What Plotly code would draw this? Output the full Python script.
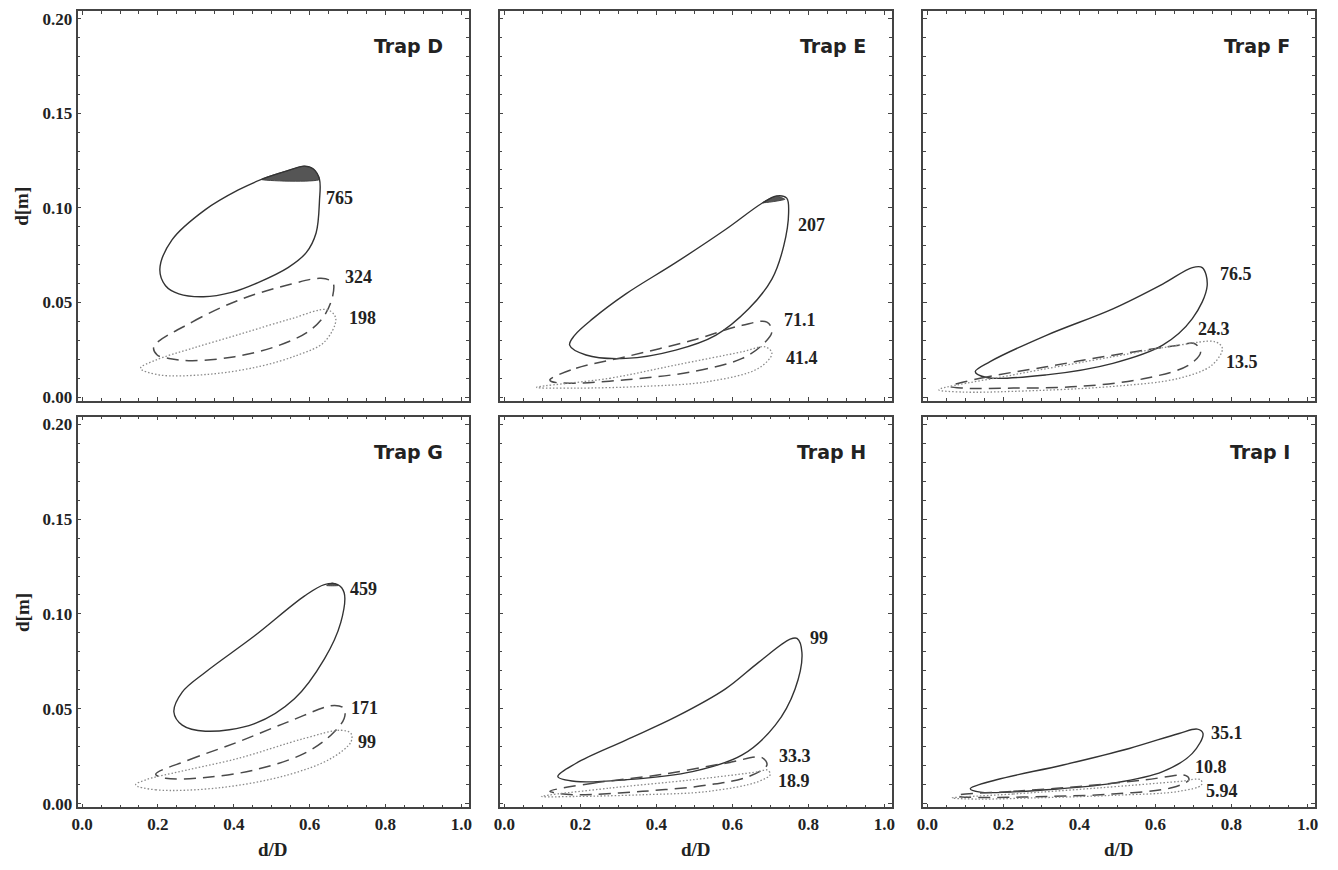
import plotly.graph_objects as go

# ---------------- data ----------------
traps = ["Trap D", "Trap E", "Trap F", "Trap G", "Trap H", "Trap I"]

# Trap D
D_solid_x = [0.205, 0.22, 0.255, 0.32, 0.394, 0.464, 0.543, 0.591, 0.617, 0.626, 0.626, 0.61, 0.586, 0.54, 0.473, 0.412, 0.325, 0.237]
D_solid_y = [0.0675, 0.0588, 0.0545, 0.053, 0.0553, 0.0605, 0.0684, 0.0763, 0.0867, 0.104, 0.115, 0.1205, 0.122, 0.1195, 0.115, 0.1094, 0.099, 0.083]
D_cap_x = [0.473, 0.54, 0.586, 0.61, 0.626]
D_cap_y = [0.115, 0.1195, 0.122, 0.1205, 0.115]
D_dash_x = [0.189, 0.290, 0.421, 0.552, 0.630, 0.661, 0.661, 0.639, 0.595, 0.508, 0.403, 0.290, 0.229, 0.198]
D_dash_y = [0.0265, 0.0396, 0.0518, 0.0597, 0.0627, 0.0605, 0.0536, 0.0431, 0.0344, 0.0265, 0.0213, 0.0192, 0.0204, 0.0222]
D_dot_x = [0.154, 0.202, 0.333, 0.464, 0.569, 0.639, 0.669, 0.647, 0.552, 0.421, 0.290, 0.194]
D_dot_y = [0.0152, 0.0117, 0.012, 0.016, 0.0222, 0.0291, 0.0414, 0.0461, 0.0414, 0.0335, 0.0257, 0.0195]
D_labels = ["765", "324", "198"]
D_label_x = [0.68, 0.73, 0.739]
D_label_y = [0.105, 0.0632, 0.0417]

# Trap E
E_solid_x = [0.172, 0.215, 0.320, 0.451, 0.556, 0.643, 0.704, 0.735, 0.748, 0.743, 0.717, 0.678, 0.582, 0.451, 0.320, 0.233, 0.185]
E_solid_y = [0.0274, 0.0222, 0.0204, 0.0248, 0.0326, 0.0466, 0.0623, 0.0797, 0.0972, 0.1051, 0.1063, 0.1024, 0.0885, 0.071, 0.0545, 0.0414, 0.0326]
E_cap_x = [0.68, 0.70, 0.717, 0.738]
E_cap_y = [0.1027, 0.1050, 0.1061, 0.1045]
E_dash_x = [0.120, 0.189, 0.320, 0.495, 0.626, 0.691, 0.704, 0.678, 0.626, 0.495, 0.320, 0.172, 0.124]
E_dash_y = [0.0091, 0.0152, 0.0213, 0.030, 0.0379, 0.0396, 0.0344, 0.0274, 0.0204, 0.0134, 0.0091, 0.0073, 0.0082]
E_dot_x = [0.085, 0.277, 0.451, 0.626, 0.687, 0.704, 0.669, 0.538, 0.364, 0.189]
E_dot_y = [0.0051, 0.0099, 0.0169, 0.0239, 0.0265, 0.023, 0.0152, 0.0082, 0.0056, 0.0047]
E_labels = ["207", "71.1", "41.4"]
E_label_x = [0.809, 0.778, 0.783]
E_label_y = [0.0911, 0.0405, 0.0204]

# Trap F
F_solid_x = [0.126, 0.156, 0.313, 0.488, 0.619, 0.697, 0.736, 0.723, 0.697, 0.619, 0.488, 0.313, 0.165]
F_solid_y = [0.0134, 0.0103, 0.0117, 0.0178, 0.0274, 0.0414, 0.0588, 0.0684, 0.0684, 0.0597, 0.0466, 0.0326, 0.0187]
F_dash_x = [0.060, 0.139, 0.313, 0.488, 0.662, 0.702, 0.719, 0.688, 0.575, 0.401, 0.226, 0.095]
F_dash_y = [0.0056, 0.0099, 0.016, 0.0221, 0.0274, 0.0283, 0.0239, 0.0169, 0.0099, 0.0056, 0.0047, 0.0047]
F_dot_x = [0.030, 0.226, 0.488, 0.662, 0.758, 0.776, 0.749, 0.662, 0.488, 0.226, 0.095]
F_dot_y = [0.0038, 0.0117, 0.0213, 0.0274, 0.0291, 0.0257, 0.0169, 0.0099, 0.0056, 0.003, 0.0026]
F_labels = ["76.5", "24.3", "13.5"]
F_label_x = [0.811, 0.754, 0.828]
F_label_y = [0.0649, 0.0361, 0.0187]

# Trap G
G_solid_x = [0.242, 0.264, 0.325, 0.455, 0.560, 0.639, 0.682, 0.691, 0.674, 0.639, 0.586, 0.455, 0.325, 0.264]
G_solid_y = [0.0483, 0.0414, 0.0382, 0.0422, 0.0553, 0.0763, 0.0954, 0.1112, 0.1155, 0.1155, 0.1094, 0.0885, 0.0693, 0.0588]
G_cap_x = [0.645, 0.66, 0.675]
G_cap_y = [0.1150, 0.1163, 0.1150]
G_dash_x = [0.194, 0.281, 0.412, 0.543, 0.665, 0.691, 0.691, 0.656, 0.586, 0.455, 0.325, 0.220]
G_dash_y = [0.0155, 0.023, 0.0326, 0.0431, 0.0518, 0.0501, 0.0449, 0.0361, 0.0265, 0.0178, 0.0138, 0.0134]
G_dot_x = [0.141, 0.194, 0.368, 0.543, 0.657, 0.709, 0.709, 0.682, 0.586, 0.412, 0.237, 0.168]
G_dot_y = [0.0099, 0.0073, 0.0085, 0.0152, 0.0239, 0.0326, 0.037, 0.0387, 0.0344, 0.0239, 0.016, 0.0126]
G_labels = ["459", "171", "99"]
G_label_x = [0.743, 0.745, 0.750]
G_label_y = [0.1133, 0.0504, 0.0326]

# Trap H
H_solid_x = [0.141, 0.189, 0.320, 0.495, 0.626, 0.713, 0.765, 0.783, 0.770, 0.752, 0.669, 0.582, 0.451, 0.320, 0.189]
H_solid_y = [0.0143, 0.0117, 0.0126, 0.0169, 0.0257, 0.0414, 0.0605, 0.0797, 0.0871, 0.0867, 0.0745, 0.0605, 0.0457, 0.0335, 0.0213]
H_dash_x = [0.120, 0.233, 0.408, 0.582, 0.678, 0.691, 0.643, 0.538, 0.364, 0.189, 0.137]
H_dash_y = [0.0065, 0.0108, 0.0152, 0.0213, 0.0243, 0.0204, 0.0143, 0.0099, 0.0065, 0.0047, 0.0056]
H_dot_x = [0.098, 0.277, 0.495, 0.669, 0.691, 0.700, 0.669, 0.538, 0.364, 0.189]
H_dot_y = [0.0038, 0.0082, 0.0126, 0.0169, 0.0178, 0.0155, 0.0117, 0.0065, 0.0047, 0.0038]
H_labels = ["99", "33.3", "18.9"]
H_label_x = [0.829, 0.764, 0.761]
H_label_y = [0.0873, 0.0251, 0.012]

# Trap I
I_solid_x = [0.113, 0.139, 0.313, 0.488, 0.619, 0.697, 0.725, 0.710, 0.662, 0.531, 0.357, 0.182]
I_solid_y = [0.0079, 0.0061, 0.0073, 0.0108, 0.0169, 0.0265, 0.037, 0.0393, 0.037, 0.0291, 0.0204, 0.0126]
I_dash_x = [0.078, 0.226, 0.401, 0.575, 0.680, 0.688, 0.645, 0.488, 0.313, 0.139, 0.086]
I_dash_y = [0.0044, 0.0065, 0.0091, 0.0126, 0.0148, 0.0126, 0.0085, 0.0051, 0.0038, 0.0033, 0.0037]
I_dot_x = [0.065, 0.226, 0.444, 0.662, 0.719, 0.721, 0.662, 0.488, 0.270, 0.139]
I_dot_y = [0.003, 0.0051, 0.0082, 0.0117, 0.0126, 0.0099, 0.0065, 0.0044, 0.003, 0.0024]
I_labels = ["35.1", "10.8", "5.94"]
I_label_x = [0.789, 0.745, 0.776]
I_label_y = [0.037, 0.0195, 0.0068]

x_ticks = [0.0, 0.2, 0.4, 0.6, 0.8, 1.0]
y_ticks = [0.00, 0.05, 0.10, 0.15, 0.20]
x_label = "d/D"
y_label = "d[m]"

panels = [
    (D_solid_x, D_solid_y, D_dash_x, D_dash_y, D_dot_x, D_dot_y, (D_cap_x, D_cap_y), D_labels, D_label_x, D_label_y),
    (E_solid_x, E_solid_y, E_dash_x, E_dash_y, E_dot_x, E_dot_y, (E_cap_x, E_cap_y), E_labels, E_label_x, E_label_y),
    (F_solid_x, F_solid_y, F_dash_x, F_dash_y, F_dot_x, F_dot_y, None, F_labels, F_label_x, F_label_y),
    (G_solid_x, G_solid_y, G_dash_x, G_dash_y, G_dot_x, G_dot_y, (G_cap_x, G_cap_y), G_labels, G_label_x, G_label_y),
    (H_solid_x, H_solid_y, H_dash_x, H_dash_y, H_dot_x, H_dot_y, None, H_labels, H_label_x, H_label_y),
    (I_solid_x, I_solid_y, I_dash_x, I_dash_y, I_dot_x, I_dot_y, None, I_labels, I_label_x, I_label_y),
]

# ---------------- layout ----------------
# the page body has an 8px default margin, so the figure is drawn 8px smaller
# and all target pixel positions are shifted by that offset
OFF = 8
W, H = 1338 - OFF, 870 - OFF
col_px = [(72 - OFF, 466 - OFF), (497 - OFF, 892 - OFF), (923 - OFF, 1318 - OFF)]
row_px = [(10 - OFF, 403 - OFF), (419 - OFF, 813 - OFF)]

fig = go.Figure()
serif_bold = dict(family="Liberation Serif", size=17, color="#222", weight="bold")

def closed(a):
    return list(a) + [a[0]]

for i, p in enumerate(panels):
    r, c = divmod(i, 3)
    n = i + 1
    xa = "x" if n == 1 else f"x{n}"
    ya = "y" if n == 1 else f"y{n}"
    sx, sy, dx, dy, ox, oy, cap, labs, lx, ly = p

    if cap is not None:
        fig.add_trace(go.Scatter(x=closed(cap[0]), y=closed(cap[1]), mode="lines", fill="toself",
                                 fillcolor="#555", line=dict(color="#444", width=1, shape="spline", smoothing=0.6),
                                 xaxis=xa, yaxis=ya, showlegend=False, hoverinfo="skip"))
    fig.add_trace(go.Scatter(x=closed(sx), y=closed(sy), mode="lines",
                             line=dict(color="#333", width=1.4, shape="spline", smoothing=1.0),
                             xaxis=xa, yaxis=ya, showlegend=False))
    fig.add_trace(go.Scatter(x=closed(dx), y=closed(dy), mode="lines",
                             line=dict(color="#4a4a4a", width=1.5, dash="12px,7px", shape="spline", smoothing=1.0),
                             xaxis=xa, yaxis=ya, showlegend=False))
    fig.add_trace(go.Scatter(x=closed(ox), y=closed(oy), mode="lines",
                             line=dict(color="#8a8a8a", width=1.3, dash="1.5px,2px", shape="spline", smoothing=1.0),
                             xaxis=xa, yaxis=ya, showlegend=False))
    for t, tx, ty in zip(labs, lx, ly):
        fig.add_annotation(x=tx, y=ty, xref=xa, yref=ya, text=t, showarrow=False,
                           xanchor="center", yanchor="middle",
                           font=dict(family="Liberation Serif", size=18, color="#222", weight="bold"))
    fig.add_annotation(x=0.94, y=0.91, xref=f"{xa} domain", yref=f"{ya} domain", text=traps[i],
                       showarrow=False, xanchor="right", yanchor="middle",
                       font=dict(family="DejaVu Sans", size=19, color="#222", weight="bold"))

    x0, x1 = col_px[c]
    y0, y1 = row_px[r]
    axis_common = dict(showline=True, linecolor="#444", linewidth=1.6, mirror="allticks",
                       ticks="inside", tickcolor="#444", ticklen=4, tickwidth=1,
                       showgrid=False, zeroline=False, tickfont=serif_bold)
    fig.layout[("xaxis" if n == 1 else f"xaxis{n}")] = dict(
        axis_common, domain=[x0 / W, x1 / W], anchor=ya, range=[-0.012, 1.02],
        tickvals=x_ticks, ticktext=[f"{v:.1f}" for v in x_ticks], showticklabels=(r == 1),
        minor=dict(dtick=0.05, tick0=0, ticks="inside", ticklen=3, tickcolor="#444", showgrid=False))
    fig.layout[("yaxis" if n == 1 else f"yaxis{n}")] = dict(
        axis_common, domain=[1 - y1 / H, 1 - y0 / H], anchor=xa, range=[-0.002, 0.204],
        tickvals=y_ticks, ticktext=[f"{v:.2f}" for v in y_ticks], showticklabels=(c == 0),
        minor=dict(dtick=0.01, tick0=0, ticks="inside", ticklen=3, tickcolor="#444", showgrid=False))

# axis titles
for c in range(3):
    x0, x1 = col_px[c]
    fig.add_annotation(x=(x0 + x1) / 2 / W, y=1 - (855 - OFF) / H, xref="paper", yref="paper", text=x_label,
                       showarrow=False, xanchor="center", yanchor="middle",
                       font=dict(family="Liberation Serif", size=19, color="#222", weight="bold"))
for r in range(2):
    y0, y1 = row_px[r]
    fig.add_annotation(x=(16 - OFF) / W, y=1 - (y0 + y1) / 2 / H, xref="paper", yref="paper", text=y_label,
                       showarrow=False, xanchor="center", yanchor="middle", textangle=-90,
                       font=dict(family="Liberation Serif", size=19, color="#222", weight="bold"))

fig.update_layout(width=W, height=H, margin=dict(l=0, r=0, t=0, b=0),
                  plot_bgcolor="white", paper_bgcolor="white", showlegend=False)

fig.write_html("out.html")
